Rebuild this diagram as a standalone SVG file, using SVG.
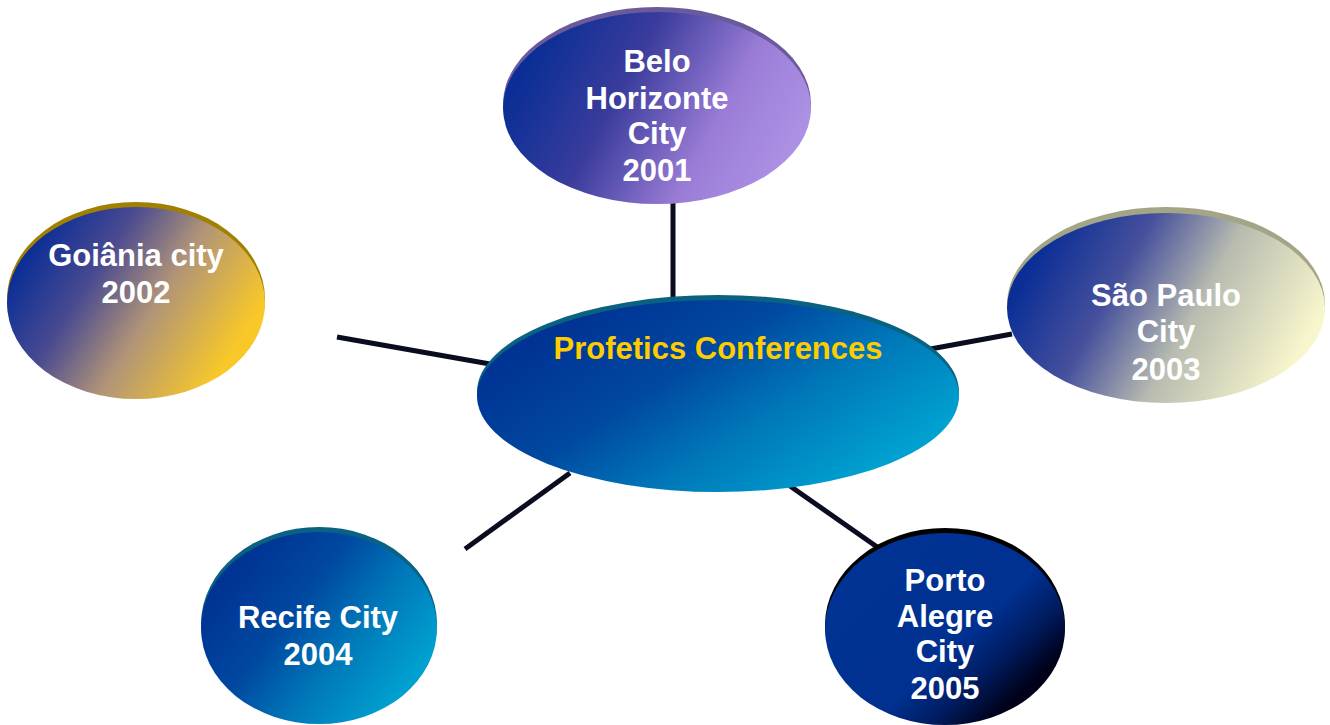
<svg xmlns="http://www.w3.org/2000/svg" width="1330" height="725" viewBox="0 0 1330 725">
<defs>
<linearGradient id="gBelo" x1="0.05" y1="0.35" x2="0.95" y2="0.65">
<stop offset="0" stop-color="#0a2e96"/><stop offset="0.35" stop-color="#3a3c9c"/><stop offset="0.72" stop-color="#9a7cd6"/><stop offset="1" stop-color="#ac90e4"/>
</linearGradient>
<linearGradient id="gGoi" x1="0.05" y1="0.3" x2="0.9" y2="0.7">
<stop offset="0" stop-color="#0a2e96"/><stop offset="0.3" stop-color="#4a4a90"/><stop offset="0.6" stop-color="#b09478"/><stop offset="1" stop-color="#f8c828"/>
</linearGradient>
<linearGradient id="gSao" x1="0.05" y1="0.35" x2="0.95" y2="0.65">
<stop offset="0" stop-color="#0a2e96"/><stop offset="0.3" stop-color="#46509c"/><stop offset="0.6" stop-color="#b8bcb0"/><stop offset="1" stop-color="#f8f6cc"/>
</linearGradient>
<linearGradient id="gBlue" x1="0.1" y1="0.25" x2="0.9" y2="0.75">
<stop offset="0" stop-color="#003394"/><stop offset="0.35" stop-color="#0048a0"/><stop offset="0.65" stop-color="#0077b8"/><stop offset="1" stop-color="#00a0d0"/>
</linearGradient>
<linearGradient id="gPorto" x1="0.15" y1="0.2" x2="0.85" y2="0.8">
<stop offset="0" stop-color="#003394"/><stop offset="0.6" stop-color="#003090"/><stop offset="0.8" stop-color="#001c60"/><stop offset="1" stop-color="#000018"/>
</linearGradient>
<style>
.t{font-family:"Liberation Sans",Arial,sans-serif;font-weight:bold;font-size:31px;fill:#ffffff;text-anchor:middle}
.ty{fill:#ffcc00}
.c{stroke:#0a0c20;stroke-width:5;fill:none}
</style>
</defs>
<g id="connectors">
<line class="c" x1="673" y1="200" x2="673" y2="300"/>
<line class="c" x1="337" y1="337" x2="490" y2="364"/>
<line class="c" x1="925" y1="350" x2="1012" y2="334"/>
<line class="c" x1="465" y1="549" x2="570" y2="473"/>
<line class="c" x1="790" y1="486" x2="880" y2="549"/>
</g>
<g id="belo">
<ellipse cx="657" cy="104" rx="154" ry="97" fill="#6a5a9c"/>
<ellipse cx="657" cy="108" rx="154" ry="96" fill="url(#gBelo)"/>
<text class="t" x="657" y="72">Belo</text>
<text class="t" x="657" y="109">Horizonte</text>
<text class="t" x="657" y="144">City</text>
<text class="t" x="657" y="181">2001</text>
</g>
<g id="goiania">
<ellipse cx="136" cy="299" rx="129" ry="97" fill="#a08000"/>
<ellipse cx="136" cy="303" rx="129" ry="96" fill="url(#gGoi)"/>
<text class="t" x="136" y="266">Goiânia city</text>
<text class="t" x="136" y="303">2002</text>
</g>
<g id="saopaulo">
<ellipse cx="1166" cy="304" rx="159" ry="97" fill="#a4a486"/>
<ellipse cx="1166" cy="308" rx="159" ry="95" fill="url(#gSao)"/>
<text class="t" x="1166" y="306">São Paulo</text>
<text class="t" x="1166" y="342">City</text>
<text class="t" x="1166" y="380">2003</text>
</g>
<g id="center">
<ellipse cx="718" cy="392" rx="241" ry="97" fill="#0a6282"/>
<ellipse cx="718" cy="396" rx="241" ry="96" fill="url(#gBlue)"/>
<text class="t ty" x="718" y="359">Profetics Conferences</text>
</g>
<g id="recife">
<ellipse cx="319" cy="624" rx="118" ry="97" fill="#0a6282"/>
<ellipse cx="319" cy="628" rx="118" ry="96" fill="url(#gBlue)"/>
<text class="t" x="318" y="628">Recife City</text>
<text class="t" x="318" y="665">2004</text>
</g>
<g id="porto">
<ellipse cx="945" cy="625" rx="120" ry="97" fill="#000000"/>
<ellipse cx="945" cy="629" rx="120" ry="96" fill="url(#gPorto)"/>
<text class="t" x="945" y="591">Porto</text>
<text class="t" x="945" y="627">Alegre</text>
<text class="t" x="945" y="662">City</text>
<text class="t" x="945" y="699">2005</text>
</g>
</svg>
